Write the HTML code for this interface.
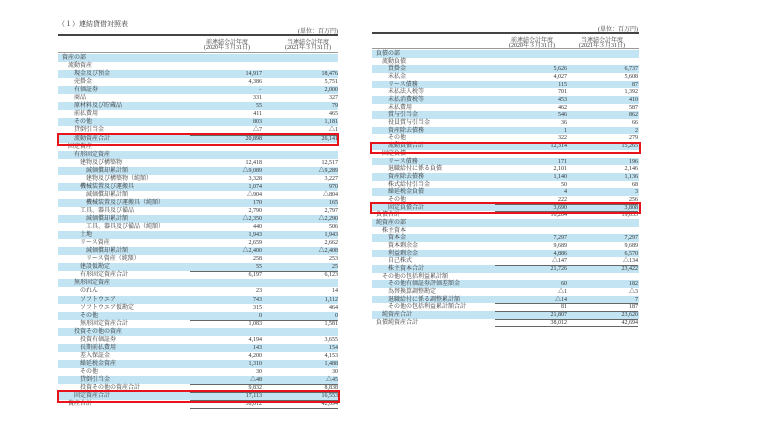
<!DOCTYPE html>
<html><head><meta charset="utf-8">
<style>
html,body{margin:0;padding:0;background:#fff;}
#root{position:relative;width:760px;height:428px;overflow:hidden;font-family:"Liberation Serif","Noto Serif CJK SC","Noto Sans CJK JP",serif;color:#333;}
.t{position:absolute;font-size:6px;line-height:8px;white-space:nowrap;}
.r{text-align:right;}
.stripe{position:absolute;background:#c2e4f3;}
.line{position:absolute;background:#444;}
.box{position:absolute;border:2px solid #e8141c;box-sizing:border-box;}
</style></head><body>
<div id="root">
<div class="t" style="left:58px;top:20px;font-size:7px">（１）連結貸借対照表</div>
<div class="t r" style="left:278px;width:60px;top:28px">(単位：百万円)</div>
<div class="t r" style="left:578px;width:60px;top:26px">(単位：百万円)</div>
</div>
<script>
const leftRows=[
["資産の部",0,"",""],["流動資産",1,"",""],["現金及び預金",2,"14,917","18,476"],["売掛金",2,"4,386","5,751"],["有価証券",2,"−","2,000"],["商品",2,"331","327"],["原材料及び貯蔵品",2,"55","79"],["前払費用",2,"411","465"],["その他",2,"803","1,181"],["貸倒引当金",2,"△7","△1"],["流動資産合計",2,"20,898","26,141"],
["固定資産",1,"",""],["有形固定資産",2,"",""],["建物及び構築物",3,"12,418","12,517"],["減価償却累計額",4,"△9,089","△9,289"],["建物及び構築物（純額）",4,"3,328","3,227"],["機械装置及び運搬具",3,"1,074","970"],["減価償却累計額",4,"△904","△804"],["機械装置及び運搬具（純額）",4,"170","165"],["工具、器具及び備品",3,"2,790","2,797"],["減価償却累計額",4,"△2,350","△2,290"],["工具、器具及び備品（純額）",4,"440","506"],["土地",3,"1,943","1,943"],["リース資産",3,"2,659","2,662"],["減価償却累計額",4,"△2,400","△2,408"],["リース資産（純額）",4,"258","253"],["建設仮勘定",3,"55","25"],["有形固定資産合計",3,"6,197","6,123"],
["無形固定資産",2,"",""],["のれん",3,"23","14"],["ソフトウエア",3,"743","1,112"],["ソフトウエア仮勘定",3,"315","464"],["その他",3,"0","0"],["無形固定資産合計",3,"1,083","1,581"],
["投資その他の資産",2,"",""],["投資有価証券",3,"4,194","3,655"],["長期前払費用",3,"143","154"],["差入保証金",3,"4,200","4,153"],["繰延税金資産",3,"1,310","1,488"],["その他",3,"30","30"],["貸倒引当金",3,"△48","△45"],["投資その他の資産合計",3,"9,832","8,838"],["固定資産合計",2,"17,113","16,553"],["資産合計",1,"38,012","42,694"]];
const rightRows=[
["負債の部",0,"",""],["流動負債",1,"",""],["買掛金",2,"5,626","6,737"],["未払金",2,"4,027","5,608"],["リース債務",2,"115","87"],["未払法人税等",2,"701","1,392"],["未払消費税等",2,"453","410"],["未払費用",2,"462","587"],["賞与引当金",2,"546","862"],["役員賞与引当金",2,"36","66"],["資産除去債務",2,"1","2"],["その他",2,"322","279"],["流動負債合計",2,"12,314","15,265"],
["固定負債",1,"",""],["リース債務",2,"171","196"],["退職給付に係る負債",2,"2,101","2,146"],["資産除去債務",2,"1,140","1,136"],["株式給付引当金",2,"50","68"],["繰延税金負債",2,"4","3"],["その他",2,"222","256"],["固定負債合計",2,"3,690","3,808"],["負債合計",0,"16,204","19,053"],
["純資産の部",0,"",""],["株主資本",1,"",""],["資本金",2,"7,297","7,297"],["資本剰余金",2,"9,689","9,689"],["利益剰余金",2,"4,886","6,570"],["自己株式",2,"△147","△134"],["株主資本合計",2,"21,726","23,422"],["その他の包括利益累計額",1,"",""],["その他有価証券評価差額金",2,"60","182"],["為替換算調整勘定",2,"△1","△3"],["退職給付に係る調整累計額",2,"△14","7"],["その他の包括利益累計額合計",2,"81","187"],["純資産合計",1,"21,807","23,620"],["負債純資産合計",0,"38,012","42,694"]];
const root=document.getElementById('root');
function mk(cls,st,txt){const d=document.createElement('div');d.className=cls;d.style.cssText=st;if(txt!==undefined)d.textContent=txt;root.appendChild(d);return d;}
function table(rows,x0,x1,top,pitch,c1,c2,h1,h2,topLine,side){
  mk('line',`left:${x0}px;top:${topLine}px;width:${x1-x0}px;height:1.5px`);
  let e=mk('t',`left:${h1-40}px;width:80px;text-align:center;top:${topLine+5}px`,'前連結会計年度');
  
  e=mk('t',`left:${h1-40}px;width:80px;text-align:center;top:${topLine+10}px`,'(2020年３月31日)');
  e=mk('t',`left:${h2-40}px;width:80px;text-align:center;top:${topLine+5}px`,'当連結会計年度');
  
  e=mk('t',`left:${h2-40}px;width:80px;text-align:center;top:${topLine+10}px`,'(2021年３月31日)');
  mk('line',`left:${x0}px;top:${top-2}px;width:${x1-x0}px;height:1px;background:#999`);
  rows.forEach((r,i)=>{
    const y=top+i*pitch;
    if(i%2===0){const s=mk('stripe',`left:${x0}px;top:${y}px;width:${x1-x0}px;height:${pitch}px`);}
    const l=mk('t',`left:${x0+4+r[1]*6}px;top:${y}px`,r[0]);
    
    
    if(r[2]!==''){const v=mk('t r',`left:${c1-60}px;width:60px;top:${y}px`,r[2]);}
    if(r[3]!==''){const v=mk('t r',`left:${c2-60}px;width:60px;top:${y}px`,r[3]);}
    if(r[0].endsWith('合計')){mk('line',`left:${c1-72}px;top:${y}px;width:${c2-c1+72}px;height:0.6px;background:#666`);}
  });
  const last=top+rows.length*pitch;
  mk('line',`left:${c1-72}px;top:${last}px;width:${c2-c1+72}px;height:1px;background:#666`);
}
table(leftRows,58,338,54,8.05,262,338,227,308,34,'left');
table(rightRows,372,639,50,7.68,567,638,532,602,32,'right');
const boxes=[[57,133,282,13,'box-current-assets-total'],[57,390,283,13,'box-fixed-assets-total'],[370,142,271,12,'box-current-liabilities-total'],[370,202,271,12,'box-fixed-liabilities-total']];
boxes.forEach(b=>{const d=mk('box',`left:${b[0]}px;top:${b[1]}px;width:${b[2]}px;height:${b[3]}px`);

});
</script>
</body></html>
